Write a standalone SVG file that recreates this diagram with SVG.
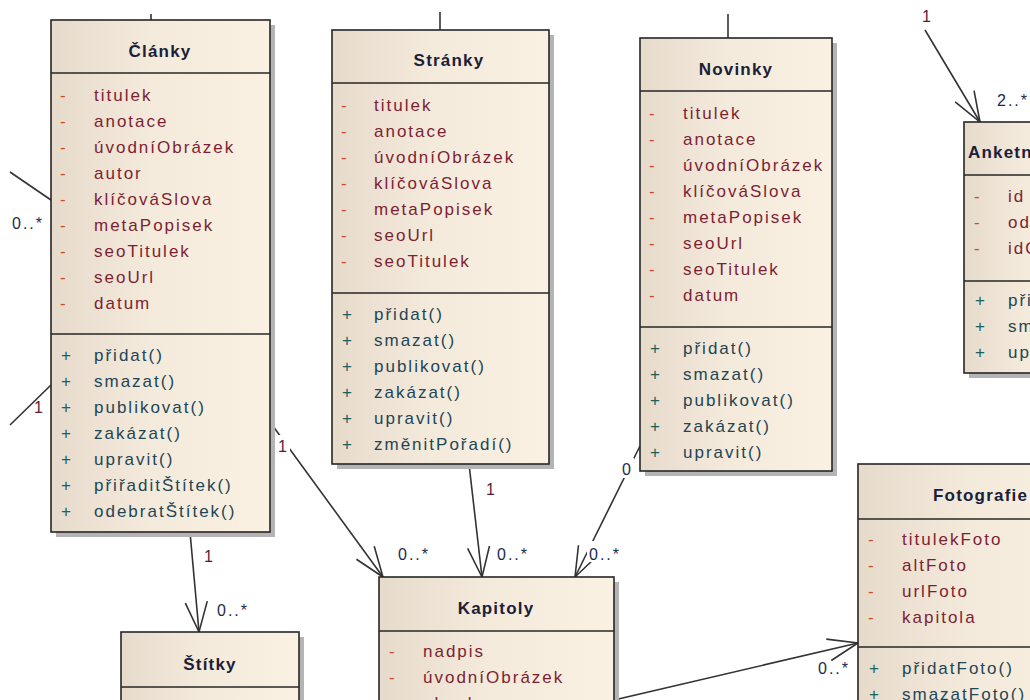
<svg xmlns="http://www.w3.org/2000/svg" width="1030" height="700" viewBox="0 0 1030 700">
  <defs>
    <linearGradient id="cls" x1="0" y1="0" x2="1" y2="0">
      <stop offset="0" stop-color="#e6dacb"/>
      <stop offset="0.45" stop-color="#f4eadb"/>
      <stop offset="1" stop-color="#fbf1e3"/>
    </linearGradient>
    <marker id="open" markerUnits="userSpaceOnUse" markerWidth="36" markerHeight="28" viewBox="-3 -3 36 28" refX="30" refY="11" orient="auto">
      <path d="M0,0 L30,11 L0,22" fill="none" stroke="#333" stroke-width="1.6"/>
    </marker>
    <style>
      text { font-family: "Liberation Sans", Arial, sans-serif; }
      .sh { fill: #b4b4b4; }
      .box { fill: url(#cls); stroke: #262626; stroke-width: 1.6; }
      .div { stroke: #262626; stroke-width: 1.6; }
      .t { font-size: 17px; font-weight: bold; fill: #1b2038; letter-spacing: 1.2px; text-anchor: middle; }
      .ts { font-size: 17px; font-weight: bold; fill: #1b2038; letter-spacing: 1.2px; }
      .d { font-size: 17px; fill: #cc4a2a; }
      .a { font-size: 17px; fill: #7d1f33; letter-spacing: 2px; }
      .p { font-size: 17px; fill: #1b6060; }
      .m { font-size: 17px; fill: #1d4656; letter-spacing: 2px; }
      .conn { stroke: #333; stroke-width: 1.6; fill: none; }
      .arr { marker-end: url(#open); }
      .lbl { font-size: 16px; letter-spacing: 2px; }
      .many { fill: #1b2a4e; }
      .one { fill: #5a1a38; }
      .bg { fill: #ffffff; }
    </style>
  </defs>

  <rect width="1030" height="700" fill="#ffffff"/>

  <!-- associations -->
  <g id="connectors">
    <line class="conn" x1="151" y1="14" x2="151" y2="20"/>
    <line class="conn" x1="440" y1="12" x2="440" y2="30"/>
    <line class="conn" x1="728" y1="14" x2="728" y2="38"/>
    <line class="conn" x1="10" y1="172" x2="51" y2="200"/>
    <line class="conn" x1="10" y1="425" x2="51" y2="385"/>
    <line class="conn arr" x1="270" y1="422" x2="383" y2="577"/>
    <line class="conn arr" x1="469" y1="464" x2="482" y2="577"/>
    <line class="conn arr" x1="640" y1="446" x2="575" y2="577"/>
    <line class="conn arr" x1="614" y1="700" x2="858" y2="643"/>
    <line class="conn arr" x1="190" y1="532" x2="199" y2="632"/>
    <line class="conn arr" x1="925" y1="30" x2="980" y2="122"/>

    <!-- multiplicities -->
    <text class="lbl many" x="12" y="229">0..*</text>
    <text class="lbl one" x="34" y="413">1</text>
    <rect class="bg" x="276" y="435" width="14" height="20"/>
    <text class="lbl one" x="278" y="452">1</text>
    <text class="lbl many" x="398" y="560">0..*</text>
    <text class="lbl one" x="486" y="495">1</text>
    <text class="lbl many" x="497" y="560">0..*</text>
    <rect class="bg" x="620" y="458" width="14" height="20"/>
    <text class="lbl many" x="622" y="475">0</text>
    <rect class="bg" x="587" y="541" width="36" height="21"/>
    <text class="lbl many" x="589" y="560">0..*</text>
    <text class="lbl one" x="204" y="562">1</text>
    <text class="lbl many" x="217" y="616">0..*</text>
    <text class="lbl many" x="818" y="674">0..*</text>
    <text class="lbl many" x="997" y="106">2..*</text>
    <text class="lbl one" x="922" y="22">1</text>
  </g>

  <!-- Články -->
  <g id="clanky">
    <rect class="sh" x="56" y="25" width="219" height="512"/>
    <rect class="box" x="51" y="20" width="219" height="512"/>
    <line class="div" x1="51" y1="73" x2="270" y2="73"/>
    <line class="div" x1="51" y1="334" x2="270" y2="334"/>
    <text class="t" x="160" y="57">Články</text>
    <text class="d" x="60" y="101">-</text><text class="a" x="94" y="101">titulek</text>
    <text class="d" x="60" y="127">-</text><text class="a" x="94" y="127">anotace</text>
    <text class="d" x="60" y="153">-</text><text class="a" x="94" y="153">úvodníObrázek</text>
    <text class="d" x="60" y="179">-</text><text class="a" x="94" y="179">autor</text>
    <text class="d" x="60" y="205">-</text><text class="a" x="94" y="205">klíčováSlova</text>
    <text class="d" x="60" y="231">-</text><text class="a" x="94" y="231">metaPopisek</text>
    <text class="d" x="60" y="257">-</text><text class="a" x="94" y="257">seoTitulek</text>
    <text class="d" x="60" y="283">-</text><text class="a" x="94" y="283">seoUrl</text>
    <text class="d" x="60" y="309">-</text><text class="a" x="94" y="309">datum</text>
    <text class="p" x="61" y="361">+</text><text class="m" x="94" y="361">přidat()</text>
    <text class="p" x="61" y="387">+</text><text class="m" x="94" y="387">smazat()</text>
    <text class="p" x="61" y="413">+</text><text class="m" x="94" y="413">publikovat()</text>
    <text class="p" x="61" y="439">+</text><text class="m" x="94" y="439">zakázat()</text>
    <text class="p" x="61" y="465">+</text><text class="m" x="94" y="465">upravit()</text>
    <text class="p" x="61" y="491">+</text><text class="m" x="94" y="491">přiřaditŠtítek()</text>
    <text class="p" x="61" y="517">+</text><text class="m" x="94" y="517">odebratŠtítek()</text>
  </g>

  <!-- Stránky -->
  <g id="stranky">
    <rect class="sh" x="337" y="35" width="217" height="434"/>
    <rect class="box" x="332" y="30" width="217" height="434"/>
    <line class="div" x1="332" y1="83" x2="549" y2="83"/>
    <line class="div" x1="332" y1="293" x2="549" y2="293"/>
    <text class="t" x="449" y="66">Stránky</text>
    <text class="d" x="341" y="111">-</text><text class="a" x="374" y="111">titulek</text>
    <text class="d" x="341" y="137">-</text><text class="a" x="374" y="137">anotace</text>
    <text class="d" x="341" y="163">-</text><text class="a" x="374" y="163">úvodníObrázek</text>
    <text class="d" x="341" y="189">-</text><text class="a" x="374" y="189">klíčováSlova</text>
    <text class="d" x="341" y="215">-</text><text class="a" x="374" y="215">metaPopisek</text>
    <text class="d" x="341" y="241">-</text><text class="a" x="374" y="241">seoUrl</text>
    <text class="d" x="341" y="267">-</text><text class="a" x="374" y="267">seoTitulek</text>
    <text class="p" x="342" y="320">+</text><text class="m" x="374" y="320">přidat()</text>
    <text class="p" x="342" y="346">+</text><text class="m" x="374" y="346">smazat()</text>
    <text class="p" x="342" y="372">+</text><text class="m" x="374" y="372">publikovat()</text>
    <text class="p" x="342" y="398">+</text><text class="m" x="374" y="398">zakázat()</text>
    <text class="p" x="342" y="424">+</text><text class="m" x="374" y="424">upravit()</text>
    <text class="p" x="342" y="450">+</text><text class="m" x="374" y="450">změnitPořadí()</text>
  </g>

  <!-- Novinky -->
  <g id="novinky">
    <rect class="sh" x="645" y="43" width="192" height="433"/>
    <rect class="box" x="640" y="38" width="192" height="433"/>
    <line class="div" x1="640" y1="91" x2="832" y2="91"/>
    <line class="div" x1="640" y1="327" x2="832" y2="327"/>
    <text class="t" x="736" y="75">Novinky</text>
    <text class="d" x="649" y="119">-</text><text class="a" x="683" y="119">titulek</text>
    <text class="d" x="649" y="145">-</text><text class="a" x="683" y="145">anotace</text>
    <text class="d" x="649" y="171">-</text><text class="a" x="683" y="171">úvodníObrázek</text>
    <text class="d" x="649" y="197">-</text><text class="a" x="683" y="197">klíčováSlova</text>
    <text class="d" x="649" y="223">-</text><text class="a" x="683" y="223">metaPopisek</text>
    <text class="d" x="649" y="249">-</text><text class="a" x="683" y="249">seoUrl</text>
    <text class="d" x="649" y="275">-</text><text class="a" x="683" y="275">seoTitulek</text>
    <text class="d" x="649" y="301">-</text><text class="a" x="683" y="301">datum</text>
    <text class="p" x="650" y="354">+</text><text class="m" x="683" y="354">přidat()</text>
    <text class="p" x="650" y="380">+</text><text class="m" x="683" y="380">smazat()</text>
    <text class="p" x="650" y="406">+</text><text class="m" x="683" y="406">publikovat()</text>
    <text class="p" x="650" y="432">+</text><text class="m" x="683" y="432">zakázat()</text>
    <text class="p" x="650" y="458">+</text><text class="m" x="683" y="458">upravit()</text>
  </g>

  <!-- Anketní otázky -->
  <g id="anketni-otazky">
    <rect class="sh" x="969" y="127" width="130" height="251"/>
    <rect class="box" x="964" y="122" width="130" height="251"/>
    <line class="div" x1="964" y1="175" x2="1094" y2="175"/>
    <line class="div" x1="964" y1="281" x2="1094" y2="281"/>
    <text class="ts" x="968" y="158">Anketní otázky</text>
    <text class="d" x="974" y="202">-</text><text class="a" x="1008" y="202">id</text>
    <text class="d" x="974" y="228">-</text><text class="a" x="1008" y="228">odpověď</text>
    <text class="d" x="974" y="254">-</text><text class="a" x="1008" y="254">idOtázky</text>
    <text class="p" x="975" y="306">+</text><text class="m" x="1008" y="306">přidat()</text>
    <text class="p" x="975" y="332">+</text><text class="m" x="1008" y="332">smazat()</text>
    <text class="p" x="975" y="358">+</text><text class="m" x="1008" y="358">upravit()</text>
  </g>

  <!-- Kapitoly -->
  <g id="kapitoly">
    <rect class="sh" x="384" y="582" width="235" height="200"/>
    <rect class="box" x="379" y="577" width="235" height="200"/>
    <line class="div" x1="379" y1="631" x2="614" y2="631"/>
    <text class="t" x="496" y="614">Kapitoly</text>
    <text class="d" x="389" y="657">-</text><text class="a" x="423" y="657">nadpis</text>
    <text class="d" x="389" y="683">-</text><text class="a" x="423" y="683">úvodníObrázek</text>
    <text class="d" x="389" y="709">-</text><text class="a" x="423" y="709">obsah</text>
  </g>

  <!-- Štítky -->
  <g id="stitky">
    <rect class="sh" x="126" y="637" width="178" height="150"/>
    <rect class="box" x="121" y="632" width="178" height="150"/>
    <line class="div" x1="121" y1="687" x2="299" y2="687"/>
    <text class="t" x="210" y="670">Štítky</text>
    <text class="d" x="130" y="713">-</text><text class="a" x="163" y="713">název</text>
  </g>

  <!-- Fotografie -->
  <g id="fotografie">
    <rect class="sh" x="863" y="469" width="250" height="300"/>
    <rect class="box" x="858" y="464" width="250" height="300"/>
    <line class="div" x1="858" y1="519" x2="1108" y2="519"/>
    <line class="div" x1="858" y1="647" x2="1108" y2="647"/>
    <text class="ts" x="933" y="501">Fotografie</text>
    <text class="d" x="868" y="545">-</text><text class="a" x="902" y="545">titulekFoto</text>
    <text class="d" x="868" y="571">-</text><text class="a" x="902" y="571">altFoto</text>
    <text class="d" x="868" y="597">-</text><text class="a" x="902" y="597">urlFoto</text>
    <text class="d" x="868" y="623">-</text><text class="a" x="902" y="623">kapitola</text>
    <text class="p" x="869" y="674">+</text><text class="m" x="902" y="674">přidatFoto()</text>
    <text class="p" x="869" y="700">+</text><text class="m" x="902" y="700">smazatFoto()</text>
  </g>
</svg>
